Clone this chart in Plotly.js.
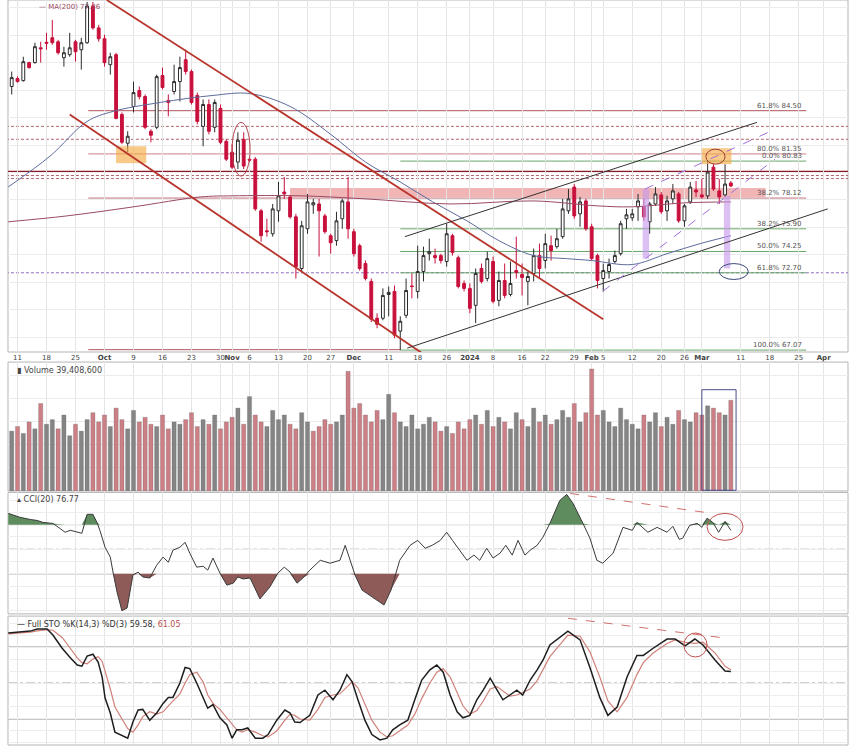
<!DOCTYPE html>
<html>
<head>
<meta charset="utf-8">
<script src="https://cdn.plot.ly/plotly-3.0.1.min.js"></script>
<style>
  html, body { margin: 0; padding: 0; background: #fff; }
  #chart { width: 850px; height: 750px; }
</style>
</head>
<body>
<div id="chart"></div>
<script>
// daily candles, trading-day index 0 = Sep 8 2023 ... 124 = Mar 8 2024
const opens = [86.26,86.84,86.69,88.00,88.00,89.08,89.48,89.81,89.52,88.36,
  88.58,89.52,88.94,89.45,92.12,90.53,89.74,87.85,88.58,84.23,
  82.13,84.81,85.97,85.53,83.00,83.29,87.06,85.25,85.90,86.62,
  88.21,87.35,85.61,83.36,84.95,83.29,84.67,82.27,81.48,80.76,
  82.42,80.97,80.97,77.21,75.76,75.54,77.21,78.58,78.22,76.77,
  73.01,75.90,77.64,77.71,76.84,75.40,75.04,76.63,77.86,75.69,
  74.67,73.37,72.07,69.39,69.39,71.12,71.34,68.45,69.60,71.74,
  71.34,72.79,74.09,73.95,73.95,73.52,75.40,73.80,71.92,71.56,
  70.33,73.01,72.28,73.52,70.69,72.14,71.12,72.86,72.57,72.07,
  72.65,73.95,73.59,74.67,74.60,75.33,77.21,78.94,76.99,77.93,
  76.05,73.95,72.28,72.79,73.52,74.09,76.63,76.70,77.50,77.50,
  76.41,77.71,78.37,77.21,78.08,78.44,76.48,77.86,78.73,78.37,
  78.30,80.39,78.66,78.37,79.24];
const highs = [87.35,87.00,88.43,88.07,89.45,89.52,90.17,91.11,89.66,89.16,
  90.17,89.66,89.81,92.41,92.41,90.75,90.03,88.72,88.72,84.37,
  83.00,86.62,86.26,85.68,83.15,87.13,87.64,85.68,87.85,88.43,
  88.94,87.49,85.82,85.32,85.32,85.32,84.95,82.42,82.06,82.93,
  82.93,81.12,81.12,77.35,76.63,77.71,79.31,79.67,78.37,76.99,
  76.48,78.44,78.08,78.08,76.99,75.54,77.14,78.08,79.67,75.90,
  74.82,73.59,72.28,69.75,71.56,71.70,71.77,69.53,72.28,72.65,
  74.67,74.60,75.18,74.46,74.09,76.27,75.54,73.95,72.14,71.92,
  73.01,73.37,74.24,73.88,72.79,73.37,73.52,75.33,73.37,72.79,
  74.46,74.82,75.54,75.40,75.90,78.08,78.80,79.16,78.22,78.08,
  76.27,74.09,73.37,73.73,74.31,76.48,77.35,77.35,78.44,78.08,
  77.86,78.94,78.58,78.30,79.16,78.58,77.71,79.31,79.38,79.52,
  80.83,80.61,79.52,80.60,79.38];
const lows = [85.68,86.55,86.62,87.56,87.93,88.00,88.94,89.30,88.58,87.71,
  88.43,88.07,87.49,89.37,90.39,89.52,87.71,87.13,83.87,82.06,
  81.48,84.37,85.32,83.15,82.20,83.15,86.04,84.09,85.68,85.17,
  87.13,84.95,83.51,81.91,82.78,82.93,82.06,80.83,80.25,80.25,
  80.25,80.76,77.21,74.96,75.33,75.33,76.41,78.08,76.63,72.28,
  72.79,75.54,76.99,73.88,75.54,74.09,74.67,75.90,75.18,73.88,
  72.86,72.14,69.10,68.66,69.24,69.53,67.94,67.07,69.39,70.84,
  70.84,72.07,73.59,73.37,73.37,73.15,73.95,71.56,71.34,69.75,
  69.03,71.92,72.07,70.47,70.26,70.84,70.98,72.28,71.05,70.33,
  72.07,72.28,73.01,73.59,74.46,75.18,76.99,76.63,76.05,75.76,
  73.59,71.56,71.34,72.28,73.37,73.95,75.90,76.48,76.48,76.48,
  75.54,77.57,76.99,76.48,77.71,76.34,76.05,77.71,78.22,78.08,
  78.08,78.66,77.71,78.22,78.94];
const closes = [86.91,86.62,88.07,87.64,89.16,89.01,89.41,89.45,88.72,88.72,
  89.08,88.79,89.45,92.12,90.53,89.74,88.00,88.43,83.94,82.20,
  82.64,85.82,85.53,83.29,82.71,86.98,86.19,85.10,86.62,87.64,
  87.35,85.10,83.72,84.95,83.00,85.10,82.20,80.97,80.39,82.35,
  80.47,80.90,77.35,75.40,75.69,77.35,78.30,78.44,76.77,73.15,
  76.12,77.86,77.80,77.21,75.69,74.89,76.48,77.93,75.90,74.09,
  73.01,72.28,69.32,68.95,71.05,71.27,68.16,69.17,71.41,71.70,
  72.79,73.95,74.24,73.80,73.59,75.54,74.17,71.70,71.56,70.11,
  72.65,72.07,73.73,70.62,72.14,71.05,71.92,72.72,72.36,72.43,
  73.95,73.01,74.82,74.31,75.18,77.35,78.08,76.84,77.86,75.90,
  73.73,72.14,72.86,73.30,73.95,76.27,76.92,76.99,77.93,76.77,
  77.71,78.44,77.14,77.93,78.66,76.48,77.57,78.94,78.58,78.22,
  80.03,78.80,78.22,79.16,79.02];
// volume, millions
const volumes = [26,28,25,30,27,38,29,31,27,33,24,29,26,31,34,30,33,
  28,36,31,27,35,30,32,29,28,33,27,30,29,31,34,28,31,29,33,27,30,
  32,36,29,41,33,30,28,35,31,33,29,27,34,30,26,28,31,29,30,33,52,
  36,38,33,30,35,31,42,34,30,28,33,27,29,32,30,26,28,25,30,27,
  31,33,29,35,28,32,30,27,34,31,28,36,30,33,29,31,35,32,38,30,34,
  53,33,35,30,28,36,31,29,27,33,30,34,28,32,29,35,31,30,34,33,37,36,34,33,39.41];

// moving averages (day position, value)
const ma50Days = [-0.6,6.6,13,17.5,25.6,34.7,41,48,55,61,67,72.6,78.5,84,90,95.7,100,107,113,118.7,124];
const ma50 = [78.95,81.19,83.72,84.45,85.10,85.61,85.75,84.81,82.78,80.76,79.31,77.86,76.48,75.04,73.95,73.73,73.59,73.30,74.09,74.82,75.40];
const ma200Days = [-0.6,9.5,21,32.5,38,50,61,75.6,90,101,107,116,124];
const ma200 = [76.41,76.84,77.50,78.22,78.30,78.30,78.08,77.71,77.93,77.57,77.50,77.79,77.86];

// CCI(20)
const cciDays = [-0.6,1.4,3.2,4.4,5.4,7.1,8.3,9.2,10.1,11.3,12.1,13,14,14.7,15.2,16.1,17,17.5,18.2,19,19.9,20.9,21.8,22.6,23.8,25,26.1,27,27.8,29,29.9,30.7,31.9,33,33.8,34.7,35.9,37.1,38.2,39,39.9,41.1,42.8,44.5,45.9,47,48,49.2,
  50.2,51.4,53.2,54.9,56.6,57.5,58.3,59.2,60.4,61.7,63,64.2,65.4,66.9,68.7,70,71.3,72.5,73.9,75,76,77.3,78.5,79.7,80.7,81.9,83,84.2,85.2,86.3,87.3,88.5,89.4,90.6,91.6,
  92.8,94.5,95.7,96.8,98.5,99.7,100.9,101.9,103.7,105.4,107,107.8,109.7,111.3,113,114,115.1,115.7,116.9,118.2,119,119.9,120.9,121.9,123,124];
const cciVals = [146,130,121,117,109,105,85,69,77,69,65,142,142,109,77,8,-32,-97,-178,-250,-239,-105,-93,-113,-117,-65,-32,-53,-4,8,28,-16,-73,-69,-85,-36,-97,-146,-138,-113,-121,-117,-202,-154,-97,-73,-93,-138,
  -117,-85,-45,-57,-45,16,-45,-105,-166,-186,-206,-227,-166,-45,16,36,4,16,36,69,36,-4,-45,-24,-45,4,-36,-16,16,-24,36,-24,-4,16,49,
  105,198,223,186,105,45,-45,-57,-16,89,77,109,69,89,69,93,40,45,97,105,89,126,109,69,113,76.77];

// Full STO %K(14,3) %D(3)
const stoDays = [-0.6,1.4,3.2,4.4,6.1,7.1,8.7,10.1,11.3,12.1,13,14,14.9,15.6,16.1,17,17.8,20,20.9,21.8,22.6,23.8,25,26.1,27,27.8,29,29.9,30.7,31.9,33,33.8,34.7,35.9,37.1,38,38.8,39.7,40.7,42,43.3,44.2,45.7,47.1,48,48.8,49.7,
  51.4,52.8,54,55.4,56.6,57.8,58.7,59.7,60.9,62.1,63.5,64.7,65.7,66.9,68.3,69.5,70.7,72.1,73.3,74.4,75.6,76.8,77.8,79,80.2,81.3,82.5,83.7,84.7,85.9,87.1,88.1,89.4,90.6,91.6,
  92.8,95.9,98,99.7,101.4,102.8,104.4,106.1,107.8,108.9,110.6,113,114.4,116.1,117.8,119.2,121.3,123,124];
const stoK = [91.7,92.5,93.3,95,95,90,79,71,65,64,72.5,74,67.5,55,37.5,25,9,4,17.5,27.5,28,19,25,33,38,38,50,63,62,50,38,29,32,21,15,4,11,11,12.5,4,4,7,19,27.5,25,17.5,17,
  23,40,44,36,44,57,51,36,19,7,2.5,4,11,15,19,36,52.5,61,65,59,40,26,21,23,36,44,54,44,36,40,44,40,52.5,61,69,
  81.7,93.3,86,63,38,23,30,55,73,73,79,86.7,86.7,81,86.7,81.7,69,60,59.58];
const stoD = [91,91.5,92.5,93.5,94.5,94,88,79,71,67,66,70,72,68,60,45,30,12,9,15,22,26,24,26,31,35,41,50,57,59,51,40,33,28,21,15,11,9,11,9,6,5,10,19,24,23,20,
  19,28,38,40,41,47,51,46,33,19,9,5,6,10,15,24,37,50,59,62,55,42,31,24,27,35,45,47,43,39,40,42,45,52,61,
  72,90,89,76,55,35,26,38,57,67,75,83,86,84,83,84,75,64,61.05];

// fibonacci labels on the right
const fibLevels = [84.50, 81.35, 80.83, 78.12, 75.90, 74.25, 72.70, 67.07];
const fibNames = ['61.8%', '80.0%', '0.0%', '38.2%', '38.2%', '50.0%', '61.8%', '100.0%'];

// x axis labels
const tickDays = [1,6,11,16,21,26,31,36,38,41,46,51,55,59,65,70,75,79,83,88,92,97,100,102,107,112,116,119,125.7,130.7,135.7,140];
const tickLabels = ['11','18','25','Oct','9','16','23','30','Nov','6','13','20','27','Dec','11','18','26','2024','8','16','22','29','Feb','5','12','20','26','Mar','11','18','25','Apr'];

const days = closes.map((_, i) => i);
const RED = '#c8103c';
const volColors = closes.map((c, i) => (i > 0 && c < closes[i - 1]) ? '#cd7f86' : '#858585');

const traces = [
  {type: 'candlestick', x: days, open: opens, high: highs, low: lows, close: closes,
   xaxis: 'x', yaxis: 'y', whiskerwidth: 0,
   increasing: {line: {color: '#2b2b2b', width: 1}, fillcolor: '#ffffff'},
   decreasing: {line: {color: RED, width: 1}, fillcolor: RED}},
  {type: 'scatter', mode: 'lines', x: ma50Days, y: ma50, xaxis: 'x', yaxis: 'y',
   line: {color: '#5c6b9c', width: 1, shape: 'spline'}},
  {type: 'scatter', mode: 'lines', x: ma200Days, y: ma200, xaxis: 'x', yaxis: 'y',
   line: {color: '#9b4a63', width: 1, shape: 'spline'}},
  {type: 'bar', x: days, y: volumes, xaxis: 'x', yaxis: 'y2', width: 0.72,
   marker: {color: volColors, line: {color: 'rgba(90,90,90,0.5)', width: 0.5}}},
  // CCI fills
  {type: 'scatter', mode: 'lines', x: cciDays, y: cciDays.map(() => 100), xaxis: 'x', yaxis: 'y3', line: {width: 0}},
  {type: 'scatter', mode: 'lines', x: cciDays, y: cciVals.map(v => Math.max(v, 100)), xaxis: 'x', yaxis: 'y3',
   line: {width: 0}, fill: 'tonexty', fillcolor: '#5f8c5f'},
  {type: 'scatter', mode: 'lines', x: cciDays, y: cciDays.map(() => -100), xaxis: 'x', yaxis: 'y3', line: {width: 0}},
  {type: 'scatter', mode: 'lines', x: cciDays, y: cciVals.map(v => Math.min(v, -100)), xaxis: 'x', yaxis: 'y3',
   line: {width: 0}, fill: 'tonexty', fillcolor: '#8f5b58'},
  {type: 'scatter', mode: 'lines', x: cciDays, y: cciVals, xaxis: 'x', yaxis: 'y3',
   line: {color: '#3a3a3a', width: 1}},
  // STO
  {type: 'scatter', mode: 'lines', x: stoDays, y: stoD, xaxis: 'x', yaxis: 'y4',
   line: {color: '#d0817a', width: 1.2}},
  {type: 'scatter', mode: 'lines', x: stoDays, y: stoK, xaxis: 'x', yaxis: 'y4',
   line: {color: '#1e1e1e', width: 1.5}}
];

const shapes = [];
function hline(yref, y, x0, x1, color, width, dash, xref) {
  shapes.push({type: 'line', xref: xref || 'x', yref: yref, x0: x0, x1: x1, y0: y, y1: y,
    line: {color: color, width: width, dash: dash || 'solid'}, layer: 'below'});
}
function seg(x0, y0, x1, y1, color, width, dash, yref) {
  shapes.push({type: 'line', xref: 'x', yref: yref || 'y', x0: x0, y0: y0, x1: x1, y1: y1,
    line: {color: color, width: width, dash: dash || 'solid'}});
}

// horizontal levels
const dots = '3px,2px';
hline('y', 84.50, 13.2, 137, '#b0545c', 1);
hline('y', 83.36, -1, 145, '#b4646e', 1, dots);
hline('y', 82.42, -1, 145, '#b4646e', 1, dots);
hline('y', 81.35, 13.2, 137, '#d59aa0', 1.2);
hline('y', 80.83, 67, 137, '#6aa86a', 1);
hline('y', 80.07, -1, 145, '#8b1a2b', 1.6);
hline('y', 79.78, -1, 145, '#b4646e', 1, dots);
hline('y', 79.56, -1, 145, '#b4646e', 1, dots);
hline('y', 78.14, 13.2, 137, '#c07078', 1);
hline('y', 75.90, 67, 137, '#6aa86a', 1);
hline('y', 74.25, 67, 137, '#6aa86a', 1);
hline('y', 72.70, -1, 145, '#8e6fbf', 1, dots);
hline('y', 72.70, 67, 137, '#6aa86a', 1);
hline('y', 67.10, 13.2, 67, '#b0545c', 1);
hline('y', 67.07, 67, 137, '#6aa86a', 1);

// resistance band
shapes.push({type: 'rect', xref: 'x', yref: 'y', x0: 48, x1: 130, y0: 78.22, y1: 78.87,
  fillcolor: 'rgba(232,120,120,0.55)', line: {width: 0}, layer: 'below'});
// orange boxes
shapes.push({type: 'rect', xref: 'x', yref: 'y', x0: 18, x1: 23.2, y0: 80.68, y1: 81.91,
  fillcolor: 'rgba(246,172,70,0.65)', line: {width: 0}});
shapes.push({type: 'rect', xref: 'x', yref: 'y', x0: 119, x1: 124.1, y0: 80.61, y1: 81.77,
  fillcolor: 'rgba(246,172,70,0.65)', line: {width: 0}});
// purple bars
shapes.push({type: 'rect', xref: 'x', yref: 'y', x0: 108.8, x1: 109.9, y0: 73.73, y1: 78.8,
  fillcolor: 'rgba(196,150,235,0.6)', line: {width: 0}});
shapes.push({type: 'rect', xref: 'x', yref: 'y', x0: 122.8, x1: 123.9, y0: 73.01, y1: 78.3,
  fillcolor: 'rgba(196,150,235,0.6)', line: {width: 0}});

// channels
seg(16.4, 92.56, 102, 69.31, '#b8352c', 1.8);
seg(10, 84.23, 77.8, 64.83, '#b8352c', 1.8);
seg(67.8, 75.33, 128.5, 83.65, '#333333', 1);
seg(68.2, 67.21, 140.7, 77.35, '#333333', 1);
seg(101.9, 71.34, 131.6, 80.97, '#a070d8', 1, 'dash');
seg(109.2, 78.80, 131.6, 83.15, '#a070d8', 1, 'dash');

// circles
shapes.push({type: 'circle', xref: 'x', yref: 'y', x0: 38, x1: 41.1, y0: 79.74, y1: 83.65,
  line: {color: '#b0434b', width: 1}});
shapes.push({type: 'circle', xref: 'x', yref: 'y', x0: 119.7, x1: 123, y0: 80.61, y1: 81.7,
  line: {color: '#a03a3a', width: 1}});
shapes.push({type: 'circle', xref: 'x', yref: 'y', x0: 122, x1: 127, y0: 72.21, y1: 73.37,
  line: {color: '#3c4a7a', width: 1}});

// volume box
shapes.push({type: 'rect', xref: 'x', yref: 'y2', x0: 119, x1: 124.9, y0: 0.3, y1: 44,
  line: {color: '#4a4f8a', width: 1}});

// CCI and STO guide lines
hline('y3', 100, 0, 1, '#8c8c8c', 1, 'solid', 'paper');
hline('y3', 0, 0, 1, '#a0a0a0', 1, 'dashdot', 'paper');
hline('y3', -100, 0, 1, '#8c8c8c', 1, 'solid', 'paper');
hline('y4', 80, 0, 1, '#8c8c8c', 1, 'solid', 'paper');
hline('y4', 50, 0, 1, '#a0a0a0', 1, 'dashdot', 'paper');
hline('y4', 20, 0, 1, '#8c8c8c', 1, 'solid', 'paper');
seg(96.3, 227, 120.7, 146, '#d07070', 1, 'dash', 'y3');
shapes.push({type: 'circle', xref: 'x', yref: 'y3', x0: 119.9, x1: 126.1, y0: 36, y1: 146,
  line: {color: '#c0504d', width: 1}});
seg(95.9, 104, 123, 87.5, '#d07070', 1, 'dash', 'y4');
shapes.push({type: 'circle', xref: 'x', yref: 'y4', x0: 115.9, x1: 119.9, y0: 71.7, y1: 91.7,
  line: {color: '#c0504d', width: 1}});

// panel frames
const domains = [[0.5275, 1], [0.341, 0.514], [0.176, 0.339], [0, 0.173]];
domains.forEach(d => shapes.push({type: 'rect', xref: 'paper', yref: 'paper', x0: 0, x1: 1, y0: d[0], y1: d[1],
  line: {color: '#b5b5b5', width: 1}, layer: 'below'}));

const small = {family: 'DejaVu Sans, Verdana, sans-serif', size: 7, color: '#555'};
const annotations = fibLevels.map((lv, i) => ({
  xref: 'x', yref: 'y', x: 136.6, y: lv, xanchor: 'right', yanchor: 'bottom',
  text: fibNames[i] + ' ' + lv.toFixed(2), showarrow: false, font: small, yshift: -1
}));
annotations.push(
  {xref: 'paper', yref: 'paper', x: 0.035, y: 0.999, xanchor: 'left', yanchor: 'top', showarrow: false,
   text: '<span style="color:#9b4a63">—</span> MA(200) 77.86', font: {family: small.family, size: 7, color: '#9b4a63'}},
  {xref: 'paper', yref: 'paper', x: 0.008, y: 0.512, xanchor: 'left', yanchor: 'top', showarrow: false,
   text: '▮ Volume 39,408,600', font: {family: small.family, size: 8, color: '#444'}},
  {xref: 'paper', yref: 'paper', x: 0.008, y: 0.338, xanchor: 'left', yanchor: 'top', showarrow: false,
   text: '▴ CCI(20) 76.77', font: {family: small.family, size: 8, color: '#444'}},
  {xref: 'paper', yref: 'paper', x: 0.008, y: 0.171, xanchor: 'left', yanchor: 'top', showarrow: false,
   text: '— Full STO %K(14,3) %D(3) 59.58, <span style="color:#c0504d">61.05</span>',
   font: {family: small.family, size: 8, color: '#333'}}
);

const grid = '#e4e4e4';
const layout = {
  width: 850, height: 750,
  margin: {l: 8, r: 2, t: 0, b: 5},
  paper_bgcolor: '#fff', plot_bgcolor: '#fff',
  showlegend: false, hovermode: false, dragmode: false,
  xaxis: {range: [-0.64, 144.2], anchor: 'y', tickmode: 'array', tickvals: tickDays,
    ticktext: tickLabels.map(t => /^[A-Z]|2024/.test(t) ? '<b>' + t + '</b>' : t),
    tickangle: 0,
    tickfont: {family: small.family, size: 7, color: '#444'}, ticks: '', ticklen: 0,
    showgrid: true, gridcolor: grid, zeroline: false, showline: false,
    rangeslider: {visible: false}},
  yaxis: {domain: domains[0], range: [66.93, 92.56], side: 'right', showticklabels: false,
    dtick: 2, tick0: 0, gridcolor: '#ececec', zeroline: false},
  yaxis2: {domain: domains[1], range: [0, 56], side: 'right', showticklabels: false,
    dtick: 10, gridcolor: '#ececec', zeroline: false},
  yaxis3: {domain: domains[2], range: [-263, 231], side: 'right', showticklabels: false,
    dtick: 50, gridcolor: '#ededed', zeroline: false},
  yaxis4: {domain: domains[3], range: [-1.7, 105.8], side: 'right', showticklabels: false,
    dtick: 10, gridcolor: '#ededed', zeroline: false},
  shapes: shapes,
  annotations: annotations
};

Plotly.newPlot('chart', traces, layout, {staticPlot: true});
</script>
</body>
</html>
